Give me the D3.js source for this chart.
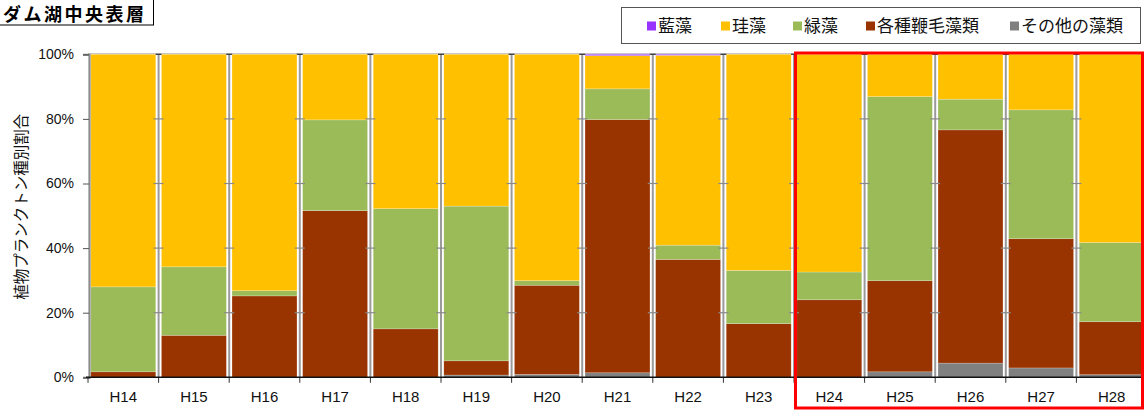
<!DOCTYPE html>
<html>
<head>
<meta charset="utf-8">
<script src="https://cdn.jsdelivr.net/npm/d3@7"></script>
<style>
  body { margin: 0; background: #fff; }
  svg { display: block; }
</style>
</head>
<body>
<svg id="chart" width="1144" height="410"></svg>
<script>
// Phytoplankton composition by year (%), stacked bottom-up
const categories   = ["H14","H15","H16","H17","H18","H19","H20","H21","H22","H23","H24","H25","H26","H27","H28"];
const others       = [0,   0,    0,    0,    0,    0.7,  0.9,  1.4,  0,    0,    0,    1.7,  4.4,  2.9,  0.8];
const flagellates  = [1.7, 13.0, 25.2, 51.6, 15.0, 4.4,  27.6, 78.4, 36.5, 16.6, 24.0, 28.2, 72.2, 40.0, 16.4];
const greens       = [26.3,21.2, 1.6,  28.1, 37.2, 47.9, 1.4,  9.5,  4.4,  16.5, 8.6,  57.0, 9.5,  39.9, 24.5];
const diatoms      = [72.0,65.8, 73.2, 20.3, 47.8, 47.0, 70.1, 10.3, 58.8, 66.9, 67.4, 13.1, 13.9, 17.2, 58.3];
const blueGreen    = [0,   0,    0,    0,    0,    0,    0,    0.4,  0.3,  0,    0,    0,    0,    0,    0];

const legendNames  = ["藍藻","珪藻","緑藻","各種鞭毛藻類","その他の藻類"];
const yTickValues  = [0, 20, 40, 60, 80, 100];
const titleText    = "ダム湖中央表層";
const yTitle       = "植物プランクトン種別割合";

const seriesKeys = ["others","flagellates","greens","diatoms","blueGreen"];
const colorOf = {
  blueGreen:  "#9933ff",
  diatoms:    "#ffc000",
  greens:     "#9bbb59",
  flagellates:"#993300",
  others:     "#808080"
};
const legendKeys = ["blueGreen","diatoms","greens","flagellates","others"];

const rows = categories.map((c, i) => ({
  cat: c,
  others: others[i],
  flagellates: flagellates[i],
  greens: greens[i],
  diatoms: diatoms[i],
  blueGreen: blueGreen[i]
}));

const svg = d3.select("#chart");
const latin = "'Liberation Sans', Arial, sans-serif";
const cjk = "'Noto Sans CJK JP', sans-serif";

const plotLeft = 88, plotRight = 1147, plotTop = 54.3, plotBottom = 377.3;

const x = d3.scaleBand()
  .domain(categories)
  .range([plotLeft, plotRight])
  .paddingInner(0.08)
  .paddingOuter(0.04);

const y = d3.scaleLinear().domain([0, 100]).range([plotBottom, plotTop]);

const stacked = d3.stack().keys(seriesKeys)(rows);

// top reference line at 100%
svg.append("line")
  .attr("x1", plotLeft).attr("x2", plotRight)
  .attr("y1", y(100) - 0.5).attr("y2", y(100) - 0.5)
  .attr("stroke", "#b0b0b0").attr("stroke-width", 1);

// bars
svg.append("g")
  .selectAll("g")
  .data(stacked)
  .join("g")
    .attr("fill", d => colorOf[d.key])
  .selectAll("rect")
  .data(d => d)
  .join("rect")
    .attr("x", d => x(d.data.cat))
    .attr("width", x.bandwidth())
    .attr("y", d => y(d[1]))
    .attr("height", d => Math.max(0, y(d[0]) - y(d[1])))
    .attr("stroke", "rgba(255,255,255,0.35)")
    .attr("stroke-width", 0.6);

// category boundary lines with cross ticks
const step = x.step();
const boundaries = d3.range(1, categories.length).map(i => plotLeft + i * step);
const bg = svg.append("g");
boundaries.forEach(bx => {
  bg.append("line")
    .attr("x1", bx).attr("x2", bx)
    .attr("y1", y(100)).attr("y2", y(0))
    .attr("stroke", "#9a9a9a").attr("stroke-width", 2);
  yTickValues.filter(v => v > 0 && v < 100).forEach(v => {
    bg.append("line")
      .attr("x1", bx - 5).attr("x2", bx + 5)
      .attr("y1", y(v)).attr("y2", y(v))
      .attr("stroke", "#8a8a8a").attr("stroke-width", 1.2);
  });
  bg.append("line")
    .attr("x1", bx - 3).attr("x2", bx + 3)
    .attr("y1", y(100)).attr("y2", y(100))
    .attr("stroke", "#333").attr("stroke-width", 1.2);
  bg.append("line")
    .attr("x1", bx).attr("x2", bx)
    .attr("y1", y(0)).attr("y2", y(0) + 5.5)
    .attr("stroke", "#333").attr("stroke-width", 1);
});

// y axis
const yAxis = svg.append("g")
  .attr("transform", `translate(${plotLeft + 1},0)`)
  .call(d3.axisLeft(y).tickValues(yTickValues).tickFormat(d => d + "%").tickSize(6).tickPadding(9));
yAxis.select(".domain").attr("stroke", "#8c8c8c").attr("stroke-width", 2.2);
yAxis.selectAll(".tick line").attr("stroke", "#555").attr("stroke-width", 1);
yAxis.selectAll(".tick text")
  .attr("font-family", latin).attr("font-size", 14).attr("fill", "#111");

// x axis baseline
svg.append("line")
  .attr("x1", plotLeft - 2).attr("x2", plotRight)
  .attr("y1", y(0)).attr("y2", y(0))
  .attr("stroke", "#111").attr("stroke-width", 1.6);
svg.append("line")
  .attr("x1", plotLeft).attr("x2", plotLeft)
  .attr("y1", y(0)).attr("y2", y(0) + 5.5)
  .attr("stroke", "#333").attr("stroke-width", 1);

const xAxis = svg.append("g")
  .attr("transform", `translate(0,${plotBottom})`)
  .call(d3.axisBottom(x).tickSize(0).tickPadding(14));
xAxis.select(".domain").remove();
xAxis.selectAll(".tick text")
  .attr("font-family", latin).attr("font-size", 15).attr("fill", "#111");

// y axis title
svg.append("text")
  .attr("transform", `translate(27,${(plotTop + plotBottom) / 2 - 9}) rotate(-90)`)
  .attr("text-anchor", "middle")
  .attr("font-family", cjk).attr("font-size", 15.5).attr("fill", "#111")
  .text(yTitle);

// chart title in a box
svg.append("rect")
  .attr("x", -1).attr("y", -1).attr("width", 154.5).attr("height", 26)
  .attr("fill", "#fff").attr("stroke", "#000").attr("stroke-width", 1);
svg.append("text")
  .attr("x", 3).attr("y", 21)
  .attr("font-family", cjk).attr("font-size", 18).attr("font-weight", "bold")
  .attr("letter-spacing", 2.5).attr("fill", "#000")
  .text(titleText);

// legend
const lg = svg.append("g");
lg.append("rect")
  .attr("x", 621.5).attr("y", 7.5).attr("width", 519).attr("height", 36)
  .attr("fill", "#fff").attr("stroke", "#555").attr("stroke-width", 1);
const legendX = [647, 721, 793, 866, 1010];
legendKeys.forEach((k, i) => {
  lg.append("rect")
    .attr("x", legendX[i]).attr("y", 21.5).attr("width", 9).attr("height", 9)
    .attr("fill", colorOf[k]);
  lg.append("text")
    .attr("x", legendX[i] + 11).attr("y", 32)
    .attr("font-family", cjk).attr("font-size", 17).attr("fill", "#111")
    .text(legendNames[i]);
});

// highlight box around recent years
svg.append("rect")
  .attr("x", 795.5).attr("y", 53).attr("width", 347).attr("height", 355)
  .attr("fill", "none").attr("stroke", "#ff0000").attr("stroke-width", 3);
</script>
</body>
</html>
